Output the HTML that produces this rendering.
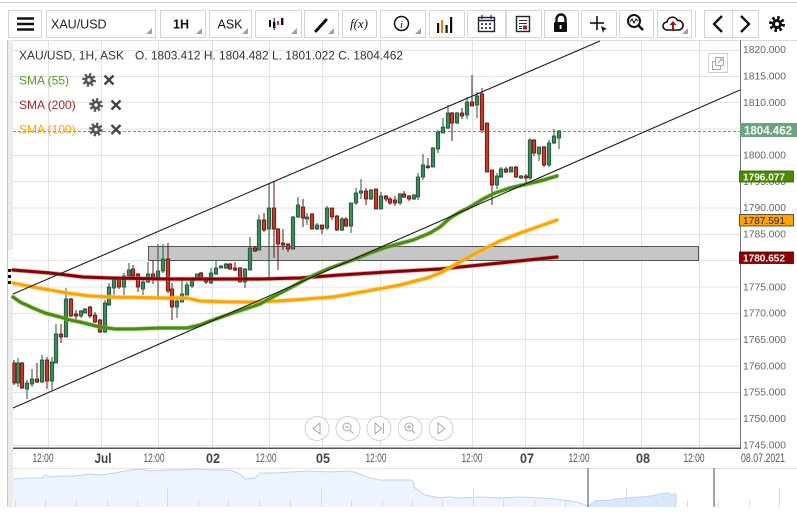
<!DOCTYPE html>
<html><head><meta charset="utf-8"><style>
html,body{margin:0;padding:0;background:#fff;}
svg{display:block;font-family:"Liberation Sans",Arial,sans-serif;}
</style></head><body>
<svg width="797" height="519" viewBox="0 0 797 519" xmlns="http://www.w3.org/2000/svg">
<rect width="797" height="519" fill="#fff"/>
<!-- top line -->
<line x1="0" y1="2.5" x2="797" y2="2.5" stroke="#cfcfcf" stroke-width="1"/>
<!-- toolbar buttons -->
<g fill="#fff" stroke="#d6d6d6" stroke-width="1">
<rect x="8.5" y="10.5" width="33" height="27"/>
<rect x="46.5" y="10.5" width="109" height="27"/>
<rect x="160.5" y="10.5" width="45" height="27"/>
<rect x="209.5" y="10.5" width="42" height="27"/>
<rect x="255.5" y="10.5" width="46" height="27"/>
<rect x="304.5" y="10.5" width="34" height="27"/>
<rect x="342.5" y="10.5" width="34" height="27"/>
<rect x="380.5" y="10.5" width="45" height="27"/>
<rect x="429.5" y="10.5" width="35" height="27"/>
<rect x="467.5" y="10.5" width="38" height="27"/>
<rect x="506.5" y="10.5" width="35" height="27"/>
<rect x="544.5" y="10.5" width="34" height="27"/>
<rect x="581.5" y="10.5" width="35" height="27"/>
<rect x="619.5" y="10.5" width="34" height="27"/>
<rect x="657.5" y="10.5" width="34" height="27"/>
<rect x="704.5" y="10.5" width="28" height="27"/>
<rect x="732.5" y="10.5" width="26" height="27"/>
</g>
<line x1="695.5" y1="10" x2="695.5" y2="38" stroke="#d6d6d6"/>
<!-- dropdown triangles -->
<g fill="#a0a0a0">
<polygon points="152,28 152,34 146,34"/>
<polygon points="202,28 202,34 196,34"/>
<polygon points="248,28 248,34 242,34"/>
<polygon points="297,28 297,34 291,34"/>
<polygon points="334,28 334,34 328,34"/>
<polygon points="421,28 421,34 415,34"/>
<polygon points="688,28 688,34 682,34"/>
</g>
<!-- hamburger -->
<g stroke="#111" stroke-width="2.4"><line x1="17" y1="18.5" x2="34" y2="18.5"/><line x1="17" y1="24" x2="34" y2="24"/><line x1="17" y1="29.5" x2="34" y2="29.5"/></g>
<text x="51" y="28.5" font-size="12.5" fill="#222">XAU/USD</text>
<text x="181" y="28.5" font-size="12.5" font-weight="bold" fill="#111" text-anchor="middle">1H</text>
<text x="230" y="28.5" font-size="12.5" fill="#111" text-anchor="middle">ASK</text>
<!-- candle icon -->
<g fill="#111"><rect x="269" y="20" width="2" height="7"/><rect x="273" y="22" width="2.4" height="6"/><line x1="274.2" y1="18" x2="274.2" y2="30" stroke="#111"/><rect x="277" y="21" width="2" height="4" fill="#c33"/><rect x="281" y="18" width="2.4" height="7"/></g>
<!-- pencil -->
<line x1="316" y1="31" x2="326" y2="20" stroke="#111" stroke-width="3" stroke-linecap="round"/>
<text x="359" y="28" font-size="13" font-style="italic" font-family="Liberation Serif,serif" text-anchor="middle" fill="#111">f(x)</text>
<!-- info -->
<circle cx="401.5" cy="23.5" r="7" fill="none" stroke="#111" stroke-width="1.5"/>
<text x="401.5" y="28" font-size="11" font-style="italic" font-family="Liberation Serif,serif" text-anchor="middle" fill="#111">i</text>
<!-- bars -->
<g fill="#111"><rect x="437" y="23" width="2.2" height="10"/><rect x="441" y="20" width="2.2" height="13" fill="#d98a00"/><rect x="445.5" y="25" width="2.2" height="8"/><rect x="450" y="17" width="2.2" height="16"/></g>
<!-- calendar -->
<rect x="478.5" y="17.5" width="16" height="14" fill="#fff" stroke="#223" stroke-width="1.4"/>
<line x1="478" y1="20.5" x2="495" y2="20.5" stroke="#223" stroke-width="1.4"/>
<g fill="#5a3a7a"><rect x="481" y="23" width="2" height="2"/><rect x="485" y="23" width="2" height="2"/><rect x="489" y="23" width="2" height="2"/><rect x="481" y="27" width="2" height="2"/><rect x="485" y="27" width="2" height="2"/><rect x="489" y="27" width="2" height="2"/></g>
<g stroke="#223" stroke-width="1.2"><line x1="482" y1="15" x2="482" y2="19"/><line x1="491" y1="15" x2="491" y2="19"/></g>
<!-- doc -->
<rect x="516.5" y="16.5" width="13" height="15" fill="#fff" stroke="#222" stroke-width="1.4"/>
<g stroke="#333"><line x1="519" y1="20.5" x2="527" y2="20.5"/><line x1="519" y1="23.5" x2="527" y2="23.5"/><line x1="519" y1="26.5" x2="522" y2="26.5"/><line x1="519" y1="28.5" x2="522" y2="28.5"/></g>
<rect x="523" y="25.5" width="4" height="4" fill="#a02030"/>
<!-- lock -->
<path d="M556.5 23 V19 a4.5 4.5 0 0 1 9 0 V23" fill="none" stroke="#111" stroke-width="2.4"/>
<rect x="554" y="22" width="13" height="10" rx="1" fill="#111"/>
<rect x="559.7" y="25" width="1.8" height="4" fill="#fff"/>
<!-- crosshair -->
<g stroke="#111" stroke-width="1.6"><line x1="597" y1="16" x2="597" y2="30"/><line x1="590" y1="23" x2="604" y2="23"/></g>
<polygon points="601,26 607,29 604,30 603,33" fill="#111"/>
<!-- zoom -->
<circle cx="634" cy="21" r="6" fill="none" stroke="#111" stroke-width="2"/>
<line x1="638.5" y1="25.5" x2="643" y2="30" stroke="#111" stroke-width="2.5"/>
<polyline points="630,22 632,19 634,23 636,19 638,21" fill="none" stroke="#111" stroke-width="1"/>
<!-- cloud -->
<path d="M667 30 a4 4 0 0 1 0-8 a5.5 5.5 0 0 1 10.5-1.5 a4.2 4.2 0 0 1 1.5 9.5 Z" fill="#fff" stroke="#111" stroke-width="1.6"/>
<line x1="673" y1="31" x2="673" y2="23" stroke="#b01010" stroke-width="2"/>
<polygon points="669.5,25 673,21 676.5,25" fill="#b01010"/>
<!-- chevrons -->
<polyline points="722,16 714,24 722,32" fill="none" stroke="#111" stroke-width="2.3"/>
<polyline points="741,16 749,24 741,32" fill="none" stroke="#111" stroke-width="2.3"/>
<!-- gear top right -->
<circle cx="777" cy="24" r="6" fill="none" stroke="#111" stroke-width="4" stroke-dasharray="2.4 2.3"/>
<circle cx="777" cy="24" r="5" fill="#111"/>
<circle cx="777" cy="24" r="2" fill="#fff"/>

<!-- chart frame -->
<line x1="7" y1="40.5" x2="797" y2="40.5" stroke="#dcdcdc"/>
<rect x="7" y="40" width="6" height="467" fill="#ececec"/>
<rect x="8" y="250" width="5" height="50" fill="#f8f8f8"/>
<line x1="7.5" y1="40" x2="7.5" y2="507" stroke="#c8c8c8"/>
<g fill="#111"><rect x="8" y="269" width="3" height="3"/><rect x="8" y="275" width="3" height="3"/><rect x="8" y="281" width="3" height="3"/></g>

<!-- gridlines -->
<g stroke="#e3e3e3" stroke-width="1">
<line x1="13" y1="50.5" x2="740" y2="50.5"/><line x1="13" y1="76.5" x2="740" y2="76.5"/><line x1="13" y1="102.5" x2="740" y2="102.5"/><line x1="13" y1="129" x2="740" y2="129"/><line x1="13" y1="155.5" x2="740" y2="155.5"/><line x1="13" y1="181.5" x2="740" y2="181.5"/><line x1="13" y1="208" x2="740" y2="208"/><line x1="13" y1="234.5" x2="740" y2="234.5"/><line x1="13" y1="260.5" x2="740" y2="260.5"/><line x1="13" y1="287" x2="740" y2="287"/><line x1="13" y1="313.5" x2="740" y2="313.5"/><line x1="13" y1="339.5" x2="740" y2="339.5"/><line x1="13" y1="366" x2="740" y2="366"/><line x1="13" y1="392.5" x2="740" y2="392.5"/><line x1="13" y1="419" x2="740" y2="419"/><line x1="13" y1="445.5" x2="740" y2="445.5"/>
<line x1="48.5" y1="41" x2="48.5" y2="448"/><line x1="101.5" y1="41" x2="101.5" y2="448"/><line x1="158.5" y1="41" x2="158.5" y2="448"/><line x1="212.5" y1="41" x2="212.5" y2="448"/><line x1="269.5" y1="41" x2="269.5" y2="448"/><line x1="322.5" y1="41" x2="322.5" y2="448"/><line x1="380.5" y1="41" x2="380.5" y2="448"/><line x1="472.5" y1="41" x2="472.5" y2="448"/><line x1="525.5" y1="41" x2="525.5" y2="448"/><line x1="583.5" y1="41" x2="583.5" y2="448"/><line x1="641.5" y1="41" x2="641.5" y2="448"/><line x1="699.5" y1="41" x2="699.5" y2="448"/>
</g>

<!-- gray zone -->
<rect x="148.5" y="246.5" width="550" height="14" fill="#c6c6c6" stroke="#555" stroke-width="1"/>

<!-- current price dashed -->
<line x1="13" y1="131.5" x2="740" y2="131.5" stroke="#6b9f80" stroke-width="1" stroke-dasharray="3 2"/>

<!-- wicks -->
<path stroke="#24553a" stroke-width="1" fill="none" d="M18 358V387M27 380V399M32 369V387M42 355V383M52 357V390M56 324V363M66 288V337M81 310V318M85 308V313M105 300V333M109 283V306M114 277V295M124 273V295M129 263V277M143 280V295M148 262V283M158 244V298M163 244V273M177 299V318M182 277V302M187 282V295M192 277V288M197 274V280M211 268V284M216 261V275M221 265V268M226 263V269M245 268V288M250 237V270M259 215V250M269 183V278M293 216V249M298 197V218M307 213V225M317 223V230M327 206V230M342 217V231M351 203V233M356 188V205M361 179V199M371 189V200M381 192V209M400 193V205M414 194V200M418 173V200M423 154V180M433 147V167M438 130V153M443 118V133M448 105V129M457 112V124M467 97V119M477 92V118M497 173V189M501 167V178M511 167V172M521 175V179M530 138V180M539 147V161M549 140V167M554 129V144M559 130V149"/>
<path stroke="#5c1410" stroke-width="1" fill="none" d="M14 360V385M22 362V389M37 363V383M47 357V389M61 324V343M71 298V317M76 310V321M90 306V318M95 312V323M100 319V333M119 277V289M133 265V278M138 273V292M153 260V284M168 243V293M172 283V320M201 272V280M206 277V284M230 263V270M235 262V271M240 267V282M255 246V252M264 213V232M274 181V258M278 228V270M283 229V250M288 243V252M303 199V227M312 213V229M322 225V234M332 208V220M337 215V231M346 217V227M366 188V205M376 189V209M386 195V202M390 197V205M395 196V206M404 191V198M409 195V201M428 158V169M452 112V141M462 108V119M472 75V106M482 88V133M487 123V172M492 170V205M506 167V173M516 166V178M526 174V185M534 139V156M544 146V167"/>
<!-- green bodies -->
<g fill="#3f8a5d" stroke="#1f4f34" stroke-width="0.8">
<rect x="16.3" y="363" width="3.4" height="20"/><rect x="25.3" y="383" width="3.4" height="6"/><rect x="30.3" y="379" width="3.4" height="5"/><rect x="40.3" y="360" width="3.4" height="22"/><rect x="50.3" y="362" width="3.4" height="19"/><rect x="54.3" y="334" width="3.4" height="29"/><rect x="64.3" y="299" width="3.4" height="38"/><rect x="79.3" y="311" width="3.4" height="5"/><rect x="83.3" y="309" width="3.4" height="4"/><rect x="103.3" y="303" width="3.4" height="29"/><rect x="107.3" y="287" width="3.4" height="18"/><rect x="112.3" y="279" width="3.4" height="9"/><rect x="122.3" y="276" width="3.4" height="11"/><rect x="127.3" y="270" width="3.4" height="6"/><rect x="141.3" y="282" width="3.4" height="7"/><rect x="146.3" y="274" width="3.4" height="8"/><rect x="156.3" y="271" width="3.4" height="6"/><rect x="161.3" y="259" width="3.4" height="12"/><rect x="175.3" y="301" width="3.4" height="6"/><rect x="180.3" y="294" width="3.4" height="8"/><rect x="185.3" y="285" width="3.4" height="10"/><rect x="190.3" y="279" width="3.4" height="7"/><rect x="195.3" y="274" width="3.4" height="6"/><rect x="209.3" y="273" width="3.4" height="10"/><rect x="214.3" y="268" width="3.4" height="6"/><rect x="219.3" y="266" width="3.4" height="2"/><rect x="224.3" y="264" width="3.4" height="4"/><rect x="243.3" y="269" width="3.4" height="13"/><rect x="248.3" y="248" width="3.4" height="22"/><rect x="257.3" y="220" width="3.4" height="30"/><rect x="267.3" y="208" width="3.4" height="21"/><rect x="291.3" y="217" width="3.4" height="32"/><rect x="296.3" y="205" width="3.4" height="12"/><rect x="305.3" y="217" width="3.4" height="2"/><rect x="315.3" y="225" width="3.4" height="4"/><rect x="325.3" y="208" width="3.4" height="20"/><rect x="340.3" y="219" width="3.4" height="11"/><rect x="349.3" y="203" width="3.4" height="23"/><rect x="354.3" y="193" width="3.4" height="10"/><rect x="359.3" y="191" width="3.4" height="2"/><rect x="369.3" y="190" width="3.4" height="9"/><rect x="379.3" y="196" width="3.4" height="13"/><rect x="398.3" y="194" width="3.4" height="9"/><rect x="412.3" y="195" width="3.4" height="4"/><rect x="416.3" y="177" width="3.4" height="20"/><rect x="421.3" y="165" width="3.4" height="12"/><rect x="431.3" y="148" width="3.4" height="19"/><rect x="436.3" y="132" width="3.4" height="17"/><rect x="441.3" y="127" width="3.4" height="6"/><rect x="446.3" y="113" width="3.4" height="15"/><rect x="455.3" y="113" width="3.4" height="10"/><rect x="465.3" y="102" width="3.4" height="13"/><rect x="475.3" y="96" width="3.4" height="9"/><rect x="495.3" y="176" width="3.4" height="9"/><rect x="499.3" y="169" width="3.4" height="8"/><rect x="509.3" y="167" width="3.4" height="5"/><rect x="519.3" y="176" width="3.4" height="2"/><rect x="528.3" y="140" width="3.4" height="38"/><rect x="537.3" y="147" width="3.4" height="7"/><rect x="547.3" y="143" width="3.4" height="22"/><rect x="552.3" y="136" width="3.4" height="7"/><rect x="557.3" y="131" width="3.4" height="7"/>
</g>
<!-- red bodies -->
<g fill="#c33b2c" stroke="#5c1410" stroke-width="0.8">
<rect x="12.8" y="363" width="3" height="20"/><rect x="20.3" y="363" width="3.4" height="25"/><rect x="35.3" y="379" width="3.4" height="3"/><rect x="45.3" y="360" width="3.4" height="21"/><rect x="59.3" y="334" width="3.4" height="3"/><rect x="69.3" y="299" width="3.4" height="17"/><rect x="74.3" y="314" width="3.4" height="2"/><rect x="88.3" y="307" width="3.4" height="9"/><rect x="93.3" y="315" width="3.4" height="7"/><rect x="98.3" y="320" width="3.4" height="12"/><rect x="117.3" y="279" width="3.4" height="8"/><rect x="131.3" y="269" width="3.4" height="7"/><rect x="136.3" y="274" width="3.4" height="13"/><rect x="151.3" y="274" width="3.4" height="3"/><rect x="166.3" y="259" width="3.4" height="32"/><rect x="170.3" y="289" width="3.4" height="18"/><rect x="199.3" y="273" width="3.4" height="6"/><rect x="204.3" y="278" width="3.4" height="4"/><rect x="228.3" y="264" width="3.4" height="5"/><rect x="233.3" y="268" width="3.4" height="2"/><rect x="238.3" y="268" width="3.4" height="14"/><rect x="253.3" y="248" width="3.4" height="3"/><rect x="262.3" y="220" width="3.4" height="10"/><rect x="272.3" y="208" width="3.4" height="21"/><rect x="276.3" y="229" width="3.4" height="15"/><rect x="281.3" y="243" width="3.4" height="2"/><rect x="286.3" y="244" width="3.4" height="5"/><rect x="301.3" y="207" width="3.4" height="11"/><rect x="310.3" y="214" width="3.4" height="15"/><rect x="320.3" y="225" width="3.4" height="4"/><rect x="330.3" y="208" width="3.4" height="9"/><rect x="335.3" y="216" width="3.4" height="14"/><rect x="344.3" y="219" width="3.4" height="7"/><rect x="364.3" y="191" width="3.4" height="8"/><rect x="374.3" y="189" width="3.4" height="20"/><rect x="384.3" y="196" width="3.4" height="3"/><rect x="388.3" y="199" width="3.4" height="4"/><rect x="393.3" y="200" width="3.4" height="3"/><rect x="402.3" y="194" width="3.4" height="3"/><rect x="407.3" y="196" width="3.4" height="3"/><rect x="426.3" y="166" width="3.4" height="1.5"/><rect x="450.3" y="113" width="3.4" height="10"/><rect x="460.3" y="113" width="3.4" height="3"/><rect x="470.3" y="102" width="3.4" height="4"/><rect x="480.3" y="94" width="3.4" height="36"/><rect x="485.3" y="123" width="3.4" height="49"/><rect x="490.3" y="170" width="3.4" height="15"/><rect x="504.3" y="169" width="3.4" height="3"/><rect x="514.3" y="167" width="3.4" height="10"/><rect x="524.3" y="176" width="3.4" height="2"/><rect x="532.3" y="140" width="3.4" height="13"/><rect x="542.3" y="147" width="3.4" height="18"/>
</g>

<!-- SMA lines -->
<g fill="none" stroke-linejoin="round" stroke-linecap="round">
<polyline stroke="#c46a6a" stroke-width="4.6" opacity="0.55" points="13,270 50,273 83,277 110,278 167,279 260,279 300,278 340,275 387,272 440,269 500,263 557,257"/>
<polyline stroke="#8b0000" stroke-width="3" points="13,270 50,273 83,277 110,278 167,279 260,279 300,278 340,275 387,272 440,269 500,263 557,257"/>
<polyline stroke="#ffc45a" stroke-width="4.6" opacity="0.6" points="13,283 33,287 67,293 90,296 110,297 167,298 187,298 200,301 233,302 260,302 293,300 333,297 373,290 400,285 427,278 440,273 460,262 480,251 500,241 520,233 540,226 557,220"/>
<polyline stroke="#ffa500" stroke-width="3" points="13,283 33,287 67,293 90,296 110,297 167,298 187,298 200,301 233,302 260,302 293,300 333,297 373,290 400,285 427,278 440,273 460,262 480,251 500,241 520,233 540,226 557,220"/>
<polyline stroke="#84b84e" stroke-width="4.6" opacity="0.6" points="13,297 20,302 33,308 45,313 60,317 70,320 80,322 100,327 115,329 133,329 160,328 187,328 200,325 210,321 233,313 260,304 267,300 290,288 310,277 330,268 353,260 370,253 387,247 413,240 430,233 440,227 450,218 460,212 470,207 483,199 495,193 510,188 527,184 540,181 557,176"/>
<polyline stroke="#4b8c13" stroke-width="3" points="13,297 20,302 33,308 45,313 60,317 70,320 80,322 100,327 115,329 133,329 160,328 187,328 200,325 210,321 233,313 260,304 267,300 290,288 310,277 330,268 353,260 370,253 387,247 413,240 430,233 440,227 450,218 460,212 470,207 483,199 495,193 510,188 527,184 540,181 557,176"/>
</g>

<!-- trend lines -->
<g stroke="#1e1e1e" stroke-width="1.1">
<line x1="13" y1="294" x2="600" y2="41"/>
<line x1="13" y1="408" x2="740" y2="90"/>
</g>

<!-- legend -->
<text x="19" y="59.5" font-size="12" fill="#333" textLength="105" lengthAdjust="spacingAndGlyphs">XAU/USD, 1H, ASK</text>
<text x="135" y="59.5" font-size="12" fill="#333" textLength="268" lengthAdjust="spacingAndGlyphs">O. 1803.412 H. 1804.482 L. 1801.022 C. 1804.462</text>
<text x="19" y="84.5" font-size="12" fill="#5a9a1c">SMA (55)</text>
<text x="19" y="109" font-size="12" fill="#a8282a">SMA (200)</text>
<text x="19" y="133.5" font-size="12" fill="#ffa500">SMA (100)</text>
<g>
<circle cx="89" cy="80" r="5.3" fill="none" stroke="#555" stroke-width="3.2" stroke-dasharray="2.1 2.05"/><circle cx="89" cy="80" r="4.6" fill="#555"/><circle cx="89" cy="80" r="1.7" fill="#fff"/>
<circle cx="96" cy="105" r="5.3" fill="none" stroke="#555" stroke-width="3.2" stroke-dasharray="2.1 2.05"/><circle cx="96" cy="105" r="4.6" fill="#555"/><circle cx="96" cy="105" r="1.7" fill="#fff"/>
<circle cx="96" cy="129.5" r="5.3" fill="none" stroke="#555" stroke-width="3.2" stroke-dasharray="2.1 2.05"/><circle cx="96" cy="129.5" r="4.6" fill="#555"/><circle cx="96" cy="129.5" r="1.7" fill="#fff"/>
</g>
<g stroke="#444" stroke-width="2.3">
<path d="M104.5 75.5L113.5 84.5M113.5 75.5L104.5 84.5"/>
<path d="M111.5 100.5L120.5 109.5M120.5 100.5L111.5 109.5"/>
<path d="M111.5 125L120.5 134M120.5 125L111.5 134"/>
</g>

<!-- floating icon -->
<rect x="708.5" y="53.5" width="19" height="19" fill="#fff" stroke="#d0d0d0"/>
<rect x="712.5" y="61.5" width="8" height="8" fill="#fff" stroke="#aaa"/>
<rect x="715.5" y="57.5" width="8" height="8" fill="#fff" stroke="#aaa"/>
<path d="M718 63 L722 59 M719.5 59 H722 V61.5" fill="none" stroke="#aaa"/>

<!-- nav buttons -->
<g fill="rgba(255,255,255,0.6)" stroke="#d2d2d2" stroke-width="1">
<circle cx="317" cy="428.5" r="12"/><circle cx="348" cy="428.5" r="12"/><circle cx="379" cy="428.5" r="12"/><circle cx="410" cy="428.5" r="12"/><circle cx="441" cy="428.5" r="12"/>
</g>
<g fill="none" stroke="#a8a8a8" stroke-width="1">
<polygon points="320,423 313,428.5 320,434"/>
<circle cx="347" cy="427" r="4"/><line x1="350" y1="430" x2="353" y2="433.5"/><line x1="345" y1="427" x2="349" y2="427"/>
<polygon points="375,423 381.5,428.5 375,434"/><line x1="383.5" y1="423" x2="383.5" y2="434"/>
<circle cx="409" cy="427" r="4"/><line x1="412" y1="430" x2="415" y2="433.5"/><line x1="407" y1="427" x2="411" y2="427"/><line x1="409" y1="425" x2="409" y2="429"/>
<polygon points="438,423 445,428.5 438,434"/>
</g>

<!-- axes -->
<line x1="740.5" y1="40" x2="740.5" y2="448.5" stroke="#777" stroke-width="1"/>
<line x1="13" y1="448.3" x2="741" y2="448.3" stroke="#555" stroke-width="1.5"/>

<!-- price axis labels -->
<g font-size="10.2" fill="#666">
<text x="743" y="53" textLength="43" lengthAdjust="spacingAndGlyphs">1820.000</text>
<text x="743" y="79.5" textLength="43" lengthAdjust="spacingAndGlyphs">1815.000</text>
<text x="743" y="105.8" textLength="43" lengthAdjust="spacingAndGlyphs">1810.000</text>
<text x="743" y="158.5" textLength="43" lengthAdjust="spacingAndGlyphs">1800.000</text>
<text x="743" y="184.8" textLength="43" lengthAdjust="spacingAndGlyphs">1795.000</text>
<text x="743" y="211.2" textLength="43" lengthAdjust="spacingAndGlyphs">1790.000</text>
<text x="743" y="237.5" textLength="43" lengthAdjust="spacingAndGlyphs">1785.000</text>
<text x="743" y="290.3" textLength="43" lengthAdjust="spacingAndGlyphs">1775.000</text>
<text x="743" y="316.5" textLength="43" lengthAdjust="spacingAndGlyphs">1770.000</text>
<text x="743" y="343" textLength="43" lengthAdjust="spacingAndGlyphs">1765.000</text>
<text x="743" y="369.3" textLength="43" lengthAdjust="spacingAndGlyphs">1760.000</text>
<text x="743" y="395.6" textLength="43" lengthAdjust="spacingAndGlyphs">1755.000</text>
<text x="743" y="422" textLength="43" lengthAdjust="spacingAndGlyphs">1750.000</text>
<text x="743" y="448.4" textLength="43" lengthAdjust="spacingAndGlyphs">1745.000</text>
</g>
<!-- value boxes -->
<rect x="740" y="123" width="57" height="14" fill="#6aa57f"/>
<text x="744" y="134.5" font-size="11.5" font-weight="bold" fill="#fff" textLength="48" lengthAdjust="spacingAndGlyphs">1804.462</text>
<rect x="739.5" y="171" width="54" height="11" fill="#4a8c00" stroke="#2f5a00" stroke-width="0.8"/>
<text x="743" y="180.5" font-size="10.3" font-weight="bold" fill="#fff" textLength="42" lengthAdjust="spacingAndGlyphs">1796.077</text>
<rect x="739.5" y="214.5" width="54" height="11.5" fill="#ffa500" stroke="#333" stroke-width="0.8"/>
<text x="743" y="224.2" font-size="10.3" fill="#222" textLength="42" lengthAdjust="spacingAndGlyphs">1787.591</text>
<rect x="739.5" y="252" width="54" height="11.5" fill="#8b0000" stroke="#4a0000" stroke-width="0.8"/>
<text x="743" y="261.7" font-size="10.3" font-weight="bold" fill="#fff" textLength="42" lengthAdjust="spacingAndGlyphs">1780.652</text>

<!-- time axis labels -->
<g font-size="11.5" fill="#555" text-anchor="middle">
<text x="43" y="462" textLength="21" lengthAdjust="spacingAndGlyphs">12:00</text>
<text x="154" y="462" textLength="21" lengthAdjust="spacingAndGlyphs">12:00</text>
<text x="266" y="462" textLength="21" lengthAdjust="spacingAndGlyphs">12:00</text>
<text x="376" y="462" textLength="21" lengthAdjust="spacingAndGlyphs">12:00</text>
<text x="472" y="462" textLength="21" lengthAdjust="spacingAndGlyphs">12:00</text>
<text x="579" y="462" textLength="21" lengthAdjust="spacingAndGlyphs">12:00</text>
<text x="694" y="462" textLength="21" lengthAdjust="spacingAndGlyphs">12:00</text>
<text x="763" y="462" textLength="44" lengthAdjust="spacingAndGlyphs">08.07.2021</text>
</g>
<g font-size="13.5" font-weight="bold" fill="#444" text-anchor="middle">
<text x="103" y="463" textLength="17" lengthAdjust="spacingAndGlyphs">Jul</text>
<text x="213" y="463" textLength="14" lengthAdjust="spacingAndGlyphs">02</text>
<text x="323" y="463" textLength="14" lengthAdjust="spacingAndGlyphs">05</text>
<text x="527" y="463" textLength="14" lengthAdjust="spacingAndGlyphs">07</text>
<text x="643" y="463" textLength="14" lengthAdjust="spacingAndGlyphs">08</text>
</g>

<!-- navigator -->
<line x1="13" y1="468.5" x2="797" y2="468.5" stroke="#e6e6e6"/>
<path d="M13 507 L13 479 L30 478 L43 478 L45 475 L50 477 L60 476 L75 476 L90 474 L100 475 L115 473 L130 470 L140 469 L150 471 L165 470 L180 470 L200 469 L210 470 L230 470 L240 474 L245 479 L255 478 L260 473 L275 473 L290 472 L310 471 L330 472 L350 471 L360 474 L370 478 L380 480 L400 480 L412 480 L415 488 L425 495 L435 497 L440 498 L450 497 L460 498 L480 497 L500 498 L520 497 L540 498 L555 499 L570 501 L580 503 L588 506 L588 507 Z" fill="#edf4fd" stroke="none"/>
<path d="M588 507 L588 506 L595 501 L610 500 L625 498 L640 497 L650 496 L660 494 L668 493 L672 495 L676 494 L676 507 Z" fill="#d9e8fb"/>
<polyline fill="none" stroke="#b9d5f7" stroke-width="1" points="13,479 30,478 43,478 45,475 50,477 60,476 75,476 90,474 100,475 115,473 130,470 140,469 150,471 165,470 180,470 200,469 210,470 230,470 240,474 245,479 255,478 260,473 275,473 290,472 310,471 330,472 350,471 360,474 370,478 380,480 400,480 412,480 415,488 425,495 435,497 440,498 450,497 460,498 480,497 500,498 520,497 540,498 555,499 570,501 580,503 588,506 595,501 610,500 625,498 640,497 650,496 660,494 668,493 672,495 676,494 676,507"/>
<g stroke="#dcdcdc" stroke-width="1">
<line x1="15.5" y1="500" x2="15.5" y2="507"/><line x1="45.5" y1="500" x2="45.5" y2="507"/><line x1="76.5" y1="500" x2="76.5" y2="507"/><line x1="107.5" y1="500" x2="107.5" y2="507"/><line x1="137.5" y1="500" x2="137.5" y2="507"/><line x1="167.5" y1="488" x2="167.5" y2="507"/><line x1="198.5" y1="500" x2="198.5" y2="507"/><line x1="228.5" y1="500" x2="228.5" y2="507"/><line x1="259.5" y1="500" x2="259.5" y2="507"/><line x1="290.5" y1="500" x2="290.5" y2="507"/><line x1="321.5" y1="488" x2="321.5" y2="507"/><line x1="351.5" y1="500" x2="351.5" y2="507"/><line x1="382.5" y1="500" x2="382.5" y2="507"/><line x1="412.5" y1="500" x2="412.5" y2="507"/><line x1="442.5" y1="500" x2="442.5" y2="507"/><line x1="473.5" y1="488" x2="473.5" y2="507"/><line x1="503.5" y1="500" x2="503.5" y2="507"/><line x1="534.5" y1="500" x2="534.5" y2="507"/><line x1="565.5" y1="500" x2="565.5" y2="507"/><line x1="595.5" y1="500" x2="595.5" y2="507"/><line x1="626.5" y1="488" x2="626.5" y2="507"/><line x1="656.5" y1="500" x2="656.5" y2="507"/><line x1="687.5" y1="500" x2="687.5" y2="507"/><line x1="718.5" y1="500" x2="718.5" y2="507"/><line x1="749.5" y1="500" x2="749.5" y2="507"/><line x1="779.5" y1="488" x2="779.5" y2="507"/>
</g>
<line x1="588" y1="468" x2="588" y2="507" stroke="#8e8e8e" stroke-width="1.6"/>
<line x1="714" y1="468" x2="714" y2="507" stroke="#8e8e8e" stroke-width="1.6"/>
</svg>
</body></html>
